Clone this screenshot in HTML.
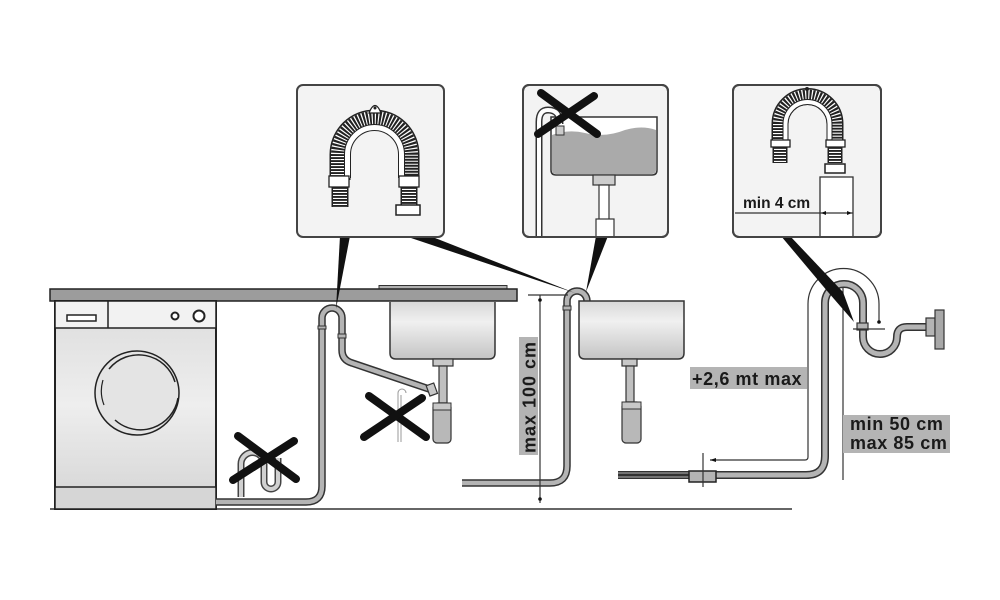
<!DOCTYPE html>
<html><head><meta charset="utf-8"><style>
html,body{margin:0;padding:0;background:#fff;}
svg{display:block;}
text{font-family:"Liberation Sans",Arial,sans-serif;font-weight:bold;fill:#1a1a1a;}
</style></head><body>
<svg width="1000" height="600" viewBox="0 0 1000 600" xmlns="http://www.w3.org/2000/svg">
<defs>
<linearGradient id="wm" x1="0" y1="0" x2="0" y2="1">
<stop offset="0" stop-color="#dcdcdc"/><stop offset="0.5" stop-color="#eeeeee"/><stop offset="1" stop-color="#d4d4d4"/>
</linearGradient>
<linearGradient id="sk" x1="0" y1="0" x2="0" y2="1">
<stop offset="0" stop-color="#d8d8d8"/><stop offset="0.35" stop-color="#f0f0f0"/><stop offset="1" stop-color="#c4c4c4"/>
</linearGradient>
<clipPath id="c2"><rect x="523" y="85" width="145" height="152" rx="6"/></clipPath>
<clipPath id="c3"><rect x="733" y="85" width="148" height="152" rx="6"/></clipPath>
</defs>

<!-- floor line -->
<line x1="50" y1="509" x2="792" y2="509" stroke="#333" stroke-width="1.5"/>

<!-- countertop -->
<rect x="379" y="285.5" width="128" height="4" fill="#b0b0b0" stroke="#333" stroke-width="1"/>
<rect x="50" y="289" width="467" height="12" fill="#9c9c9c" stroke="#222" stroke-width="1.5"/>

<!-- washing machine -->
<rect x="55" y="301" width="161" height="208" fill="url(#wm)" stroke="#222" stroke-width="2"/>
<rect x="55" y="301" width="161" height="27" fill="#f2f2f2" stroke="#222" stroke-width="1.5"/>
<line x1="108" y1="301" x2="108" y2="328" stroke="#222" stroke-width="1.5"/>
<rect x="67" y="315" width="29" height="6" fill="#fff" stroke="#222" stroke-width="1.5"/>
<circle cx="175" cy="316" r="3.5" fill="#fff" stroke="#222" stroke-width="2"/>
<circle cx="199" cy="316" r="5.5" fill="#fff" stroke="#222" stroke-width="2"/>
<rect x="55" y="487" width="161" height="22" fill="#d6d6d6" stroke="#222" stroke-width="1.5"/>
<circle cx="137" cy="393" r="42" fill="#e4e4e4" stroke="#222" stroke-width="1.5"/>
<path d="M109 369 A38 38 0 0 1 175 382" fill="none" stroke="#222" stroke-width="1.5"/>
<path d="M178 398 A38 38 0 0 1 115 420" fill="none" stroke="#222" stroke-width="1.5"/>
<path d="M103 380 A38 38 0 0 0 104 405" fill="none" stroke="#222" stroke-width="1.2"/>

<!-- left crossed loop -->
<path d="M241 497 V464 A11.5 11.5 0 0 1 264 464 V482 A7 7 0 0 0 278 482 V458" fill="none" stroke="#444" stroke-width="7"/>
<path d="M241 497 V464 A11.5 11.5 0 0 1 264 464 V482 A7 7 0 0 0 278 482 V458" fill="none" stroke="#d0d0d0" stroke-width="4"/>

<!-- machine drain hose -->
<path d="M216 502 H306 Q322 502 322 486 V318 A10 10 0 0 1 342 318 V350 Q342 360 352 363 L432 390" fill="none" stroke="#333" stroke-width="7.5"/>
<path d="M216 502 H306 Q322 502 322 486 V318 A10 10 0 0 1 342 318 V350 Q342 360 352 363 L432 390" fill="none" stroke="#b4b4b4" stroke-width="4.5"/>
<rect x="338" y="334" width="8" height="4" fill="#b4b4b4" stroke="#333" stroke-width="1"/>
<rect x="318" y="326" width="8" height="3" fill="#b4b4b4" stroke="#333" stroke-width="1"/>

<!-- sink 1 -->
<path d="M390 302 V353 Q390 359 396 359 H489 Q495 359 495 353 V302" fill="url(#sk)" stroke="#333" stroke-width="1.5"/>
<rect x="433" y="359" width="20" height="7" fill="#c8c8c8" stroke="#333" stroke-width="1.2"/>
<rect x="439" y="366" width="8" height="37" fill="#c0c0c0" stroke="#333" stroke-width="1.2"/>
<rect x="433" y="403" width="18" height="40" rx="4" fill="#b8b8b8" stroke="#333" stroke-width="1.2"/>
<rect x="433" y="403" width="18" height="7" fill="#c8c8c8" stroke="#333" stroke-width="1"/>
<rect x="428" y="384" width="8" height="11" fill="#c8c8c8" stroke="#333" stroke-width="1.2" transform="rotate(-20 432 390)"/>
<path d="M398 442 V393 A4 4 0 0 1 406 393" fill="none" stroke="#999" stroke-width="1"/>
<path d="M401 442 V395" fill="none" stroke="#999" stroke-width="1"/>

<!-- X marks -->
<g stroke="#111" stroke-width="8" stroke-linecap="round">
<line x1="238" y1="436" x2="296" y2="479"/>
<line x1="233" y1="480" x2="294" y2="441"/>
<line x1="369" y1="396" x2="426" y2="437"/>
<line x1="364" y1="437" x2="422" y2="398"/>
</g>

<!-- middle standpipe hose -->
<path d="M462 483 H550 Q567 483 567 466 V301 A10 10 0 0 1 587 301 V303" fill="none" stroke="#333" stroke-width="7.5"/>
<path d="M462 483 H550 Q567 483 567 466 V301 A10 10 0 0 1 587 301 V303" fill="none" stroke="#b4b4b4" stroke-width="4.5"/>
<rect x="563" y="306" width="8" height="4" fill="#b4b4b4" stroke="#333" stroke-width="1"/>

<!-- max 100 dimension -->
<line x1="528" y1="295" x2="568" y2="295" stroke="#333" stroke-width="1.2"/>
<line x1="540" y1="295" x2="540" y2="503" stroke="#333" stroke-width="1.2"/>
<circle cx="540" cy="300" r="1.8" fill="#111"/>
<circle cx="540" cy="499" r="1.8" fill="#111"/>
<rect x="519" y="337" width="19" height="118" fill="#b4b4b4"/>
<text transform="translate(535.5,397) rotate(-90)" text-anchor="middle" font-size="18" letter-spacing="1">max 100 cm</text>

<!-- sink 2 -->
<path d="M579 301 V353 Q579 359 585 359 H678 Q684 359 684 353 V301 Z" fill="url(#sk)" stroke="#333" stroke-width="1.5"/>
<rect x="622" y="359" width="15" height="7" fill="#c8c8c8" stroke="#333" stroke-width="1.2"/>
<rect x="626" y="366" width="8" height="36" fill="#c0c0c0" stroke="#333" stroke-width="1.2"/>
<rect x="622" y="402" width="19" height="41" rx="4" fill="#b8b8b8" stroke="#333" stroke-width="1.2"/>
<rect x="622" y="402" width="19" height="7" fill="#c8c8c8" stroke="#333" stroke-width="1"/>

<!-- right floor pipe and S trap -->
<path d="M618 475 H806 Q825 475 825 456 V303 A19 19 0 0 1 863 303 V337 A17 17 0 0 0 897 337 Q897 327 907 327 H929" fill="none" stroke="#333" stroke-width="8"/>
<path d="M618 475 H806 Q825 475 825 456 V303 A19 19 0 0 1 863 303 V337 A17 17 0 0 0 897 337 Q897 327 907 327 H929" fill="none" stroke="#b4b4b4" stroke-width="5"/>
<path d="M618 475 H690" fill="none" stroke="#333" stroke-width="3"/>
<rect x="689" y="471" width="27" height="11" fill="#b4b4b4" stroke="#222" stroke-width="1.5"/>
<rect x="857" y="323" width="11" height="7" fill="#b4b4b4" stroke="#333" stroke-width="1.2"/>
<rect x="926" y="318" width="9" height="18" fill="#b4b4b4" stroke="#333" stroke-width="1.2"/>
<rect x="935" y="310" width="9" height="39" fill="#a8a8a8" stroke="#333" stroke-width="1.2"/>

<!-- dimension lines right -->
<path d="M710 460 H805 Q808 460 808 457 V304 A35.5 35.5 0 0 1 879 304 V321" fill="none" stroke="#333" stroke-width="1.2"/>
<path d="M710 460 L716 458 L716 462 Z" fill="#111"/>
<circle cx="879" cy="322" r="1.8" fill="#111"/>
<line x1="853" y1="329" x2="885" y2="329" stroke="#333" stroke-width="1.2"/>
<line x1="703" y1="453" x2="703" y2="487" stroke="#333" stroke-width="1.2"/>
<line x1="843" y1="288" x2="843" y2="480" stroke="#333" stroke-width="1.2"/>

<rect x="690" y="367" width="117" height="22" fill="#b4b4b4"/>
<text x="692" y="385" font-size="18" letter-spacing="0.6">+2,6 mt max</text>
<rect x="843" y="415" width="107" height="38" fill="#b4b4b4"/>
<text x="850" y="430" font-size="18" letter-spacing="0.6">min 50 cm</text>
<text x="850" y="449" font-size="18" letter-spacing="0.6">max 85 cm</text>

<!-- callout wedges -->
<g fill="#111">
<polygon points="340,236 350,236 336,309"/>
<polygon points="405,236 430,236 575,293"/>
<polygon points="596,236 608,236 586,292"/>
<polygon points="781,236 790,236 843,292 854,322 828,292"/>
</g>

<!-- inset 1 -->
<rect x="297" y="85" width="147" height="152" rx="6" fill="#f3f3f3" stroke="#444" stroke-width="2"/>
<g fill="none">
<path d="M340 180 V154.5 A34.5 34.5 0 0 1 409 154.5 V180" stroke="#222" stroke-width="21"/>
<path d="M340 180 V154.5 A34.5 34.5 0 0 1 409 154.5 V180" stroke="#fff" stroke-width="18"/>
<path d="M340 180 V154.5 A34.5 34.5 0 0 1 409 154.5 V180" stroke="#222" stroke-width="18" stroke-dasharray="1.9 1.1"/>
<path d="M347.5 178 V154.5 A27 27 0 0 1 401.5 154.5 V178" stroke="#222" stroke-width="7"/>
<path d="M347.5 178 V154.5 A27 27 0 0 1 401.5 154.5 V178" stroke="#fff" stroke-width="5"/>
<path d="M340 187 V207" stroke="#222" stroke-width="17"/>
<path d="M340 187 V207" stroke="#fff" stroke-width="14"/>
<path d="M340 187 V207" stroke="#222" stroke-width="14" stroke-dasharray="1.9 1.1"/>
<path d="M409 187 V205" stroke="#222" stroke-width="17"/>
<path d="M409 187 V205" stroke="#fff" stroke-width="14"/>
<path d="M409 187 V205" stroke="#222" stroke-width="14" stroke-dasharray="1.9 1.1"/>
</g>
<path d="M369 113 Q375 98 381 113 Z" fill="#fff" stroke="#222" stroke-width="1.2"/>
<circle cx="375" cy="108" r="1.5" fill="#222"/>
<rect x="329" y="176" width="20" height="11" fill="#fff" stroke="#222" stroke-width="1.3"/>
<rect x="399" y="176" width="20" height="11" fill="#fff" stroke="#222" stroke-width="1.3"/>
<rect x="396" y="205" width="24" height="10" fill="#fff" stroke="#222" stroke-width="1.5"/>

<!-- inset 2 -->
<rect x="523" y="85" width="145" height="152" rx="6" fill="#f3f3f3" stroke="#444" stroke-width="2"/>
<g clip-path="url(#c2)">
<path d="M551 117 H657 V170 Q657 175 652 175 H556 Q551 175 551 170 Z" fill="#fff" stroke="#333" stroke-width="1.5"/>
<path d="M552 135 Q568 129 585 133 Q605 138 625 130 Q642 125 656 130 V170 Q656 174 652 174 H556 Q552 174 552 170 Z" fill="#aaa"/>
<rect x="593" y="175" width="22" height="10" fill="#ccc" stroke="#333" stroke-width="1.2"/>
<rect x="599" y="185" width="10" height="35" fill="#fff" stroke="#333" stroke-width="1.2"/>
<rect x="596" y="219" width="18" height="22" fill="#fff" stroke="#333" stroke-width="1.2"/>
<path d="M539 240 V122 Q539 110 548 110 Q560 110 560 124" fill="none" stroke="#333" stroke-width="7"/>
<path d="M539 240 V122 Q539 110 548 110 Q560 110 560 124" fill="none" stroke="#fff" stroke-width="4"/>
<rect x="556" y="126" width="8" height="9" fill="#ccc" stroke="#333" stroke-width="1"/>
<g stroke="#111" stroke-width="8" stroke-linecap="round">
<line x1="541" y1="93" x2="597" y2="134"/>
<line x1="538" y1="134" x2="594" y2="96"/>
</g>
</g>
<rect x="523" y="85" width="145" height="152" rx="6" fill="none" stroke="#444" stroke-width="2"/>

<!-- inset 3 -->
<rect x="733" y="85" width="148" height="152" rx="6" fill="#f3f3f3" stroke="#444" stroke-width="2"/>
<g clip-path="url(#c3)">
<g fill="none">
<path d="M780 142 V124 A27.5 27.5 0 0 1 835 124 V142" stroke="#222" stroke-width="17"/>
<path d="M780 142 V124 A27.5 27.5 0 0 1 835 124 V142" stroke="#fff" stroke-width="14"/>
<path d="M780 142 V124 A27.5 27.5 0 0 1 835 124 V142" stroke="#222" stroke-width="14" stroke-dasharray="1.9 1.1"/>
<path d="M785.5 140 V124 A22 22 0 0 1 829.5 124 V140" stroke="#222" stroke-width="6"/>
<path d="M785.5 140 V124 A22 22 0 0 1 829.5 124 V140" stroke="#fff" stroke-width="4"/>
<path d="M780 147 V163" stroke="#222" stroke-width="15"/>
<path d="M780 147 V163" stroke="#fff" stroke-width="12"/>
<path d="M780 147 V163" stroke="#222" stroke-width="12" stroke-dasharray="1.9 1.1"/>
<path d="M835 147 V163" stroke="#222" stroke-width="15"/>
<path d="M835 147 V163" stroke="#fff" stroke-width="12"/>
<path d="M835 147 V163" stroke="#222" stroke-width="12" stroke-dasharray="1.9 1.1"/>
</g>
<circle cx="807" cy="89" r="2" fill="#222"/>
<rect x="771" y="140" width="19" height="7" fill="#fff" stroke="#222" stroke-width="1.3"/>
<rect x="826" y="140" width="19" height="7" fill="#fff" stroke="#222" stroke-width="1.3"/>
<rect x="825" y="164" width="20" height="9" fill="#fff" stroke="#222" stroke-width="1.5"/>
<rect x="820" y="177" width="33" height="64" fill="#fff" stroke="#333" stroke-width="1.3"/>
<line x1="735" y1="213" x2="853" y2="213" stroke="#333" stroke-width="1.2"/>
<path d="M821 213 L826 211 L826 215 Z" fill="#111"/>
<path d="M852 213 L847 211 L847 215 Z" fill="#111"/>
</g>
<rect x="733" y="85" width="148" height="152" rx="6" fill="none" stroke="#444" stroke-width="2"/>
<text x="743" y="208" font-size="15.5">min 4 cm</text>
</svg>
</body></html>
